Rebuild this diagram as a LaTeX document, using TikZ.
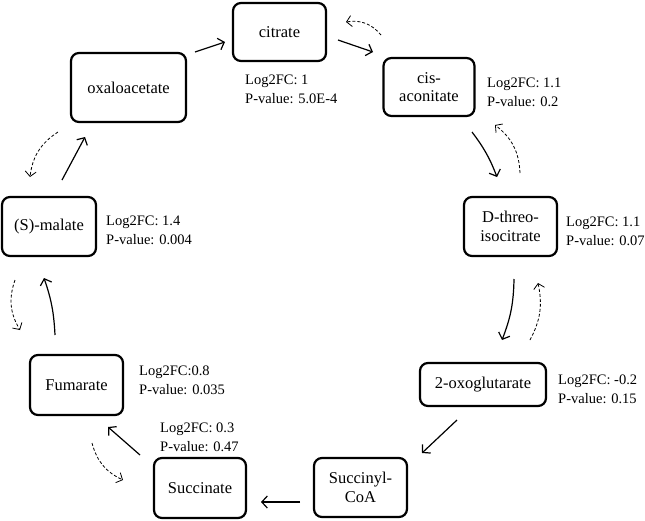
\documentclass[tikz,border=0pt]{standalone}
\usepackage{fontspec}
\setmainfont{Liberation Serif}
\usetikzlibrary{arrows.meta}
\begin{document}
\begin{tikzpicture}[x=1pt,y=-1pt,
  met/.style={draw,line width=2.2pt,rounded corners=8pt,align=center,inner sep=0pt,
    font=\fontsize{16.5}{18.5}\selectfont},
  lab/.style={anchor=west,align=left,inner sep=0pt,font=\fontsize{14.5}{19}\selectfont},
  fwd/.style={line width=1.2pt,-{Straight Barb[length=5.5pt,width=12pt,line width=1.2pt]}},
  rev/.style={line width=0.8pt,dash pattern=on 3pt off 2pt,-{Straight Barb[length=5pt,width=11pt,line width=0.8pt]}}]
\useasboundingbox (0,0) rectangle (645,520);
% nodes
\node[met,minimum width=93pt,minimum height=58pt] (cit) at (279.5,32) {citrate};
\node[met,minimum width=91pt,minimum height=58pt] (cis) at (429,87) {cis-\\aconitate};
\node[met,minimum width=115pt,minimum height=69pt] (oxa) at (128.5,87.5) {oxaloacetate};
\node[met,minimum width=93pt,minimum height=59pt] (iso) at (510.5,226.5) {D-threo-\\isocitrate};
\node[met,minimum width=94pt,minimum height=59pt] (mal) at (49,226.5) {(S)-malate};
\node[met,minimum width=93pt,minimum height=60pt] (fum) at (76.5,385) {Fumarate};
\node[met,minimum width=92pt,minimum height=60pt] (suc) at (200,488) {Succinate};
\node[met,minimum width=93pt,minimum height=59pt] (sca) at (360.5,487.5) {Succinyl-\\CoA};
\node[met,minimum width=126pt,minimum height=43pt] (oxo) at (483,384.5) {2-oxoglutarate};
% labels
\node[lab] (lcit) at (245,89) {Log2FC: 1\\P-value: 5.0E-4};
\node[lab] (lcis) at (487,92.5) {Log2FC: 1.1\\P-value: 0.2};
\node[lab] (liso) at (566,231.5) {Log2FC: 1.1\\P-value: 0.07};
\node[lab] (lmal) at (106,230.5) {Log2FC: 1.4\\P-value: 0.004};
\node[lab] (lfum) at (139,380.5) {Log2FC:0.8\\P-value: 0.035};
\node[lab] (lsuc) at (160,437.5) {Log2FC: 0.3\\P-value: 0.47};
\node[lab] (loxo) at (558,389.5) {Log2FC: -0.2\\P-value: 0.15};
% forward arrows
\draw[fwd] ([shift={(66.5,-35.5)}]oxa.center) -- ([shift={(-54.5,10)}]cit.center);
\draw[fwd] ([shift={(58.5,8)}]cit.center) -- ([shift={(-56,-35)}]cis.center);
\draw[fwd] ([shift={(43,45)}]cis.center) to[bend left=8] ([shift={(-13.5,-49.5)}]iso.center);
\draw[fwd] ([shift={(3.5,52.5)}]iso.center) to[bend left=10] ([shift={(19,-44.5)}]oxo.center);
\draw[fwd] ([shift={(-26,35.5)}]oxo.center) -- ([shift={(61.5,-34.5)}]sca.center);
\draw[fwd] ([shift={(-60.5,14.5)}]sca.center) -- ([shift={(61,14)}]suc.center);
\draw[fwd] ([shift={(-60,-33)}]suc.center) -- ([shift={(31.5,42)}]fum.center);
\draw[fwd] ([shift={(-21.5,-50)}]fum.center) to[bend right=8] ([shift={(-5,51.5)}]mal.center);
\draw[fwd] ([shift={(13,-46.5)}]mal.center) -- ([shift={(-43.5,49.5)}]oxa.center);
% reverse dashed arrows
\draw[rev] ([shift={(-48,-52)}]cis.center) to[bend right=30] ([shift={(66.5,-10)}]cit.center);
\draw[rev] ([shift={(9.5,-53.5)}]iso.center) to[bend right=25] ([shift={(66,38)}]cis.center);
\draw[rev] ([shift={(47,-44.5)}]oxo.center) to[bend right=20] ([shift={(27.5,56.5)}]iso.center);
\draw[rev] ([shift={(15.5,58)}]fum.center) to[bend right=25] ([shift={(-77,-8)}]suc.center);
\draw[rev] ([shift={(-34,53.5)}]mal.center) to[bend right=25] ([shift={(-56.5,-55)}]fum.center);
\draw[rev] ([shift={(-70.5,44.5)}]oxa.center) to[bend right=25] ([shift={(-19,-49.5)}]mal.center);
\end{tikzpicture}
\end{document}
